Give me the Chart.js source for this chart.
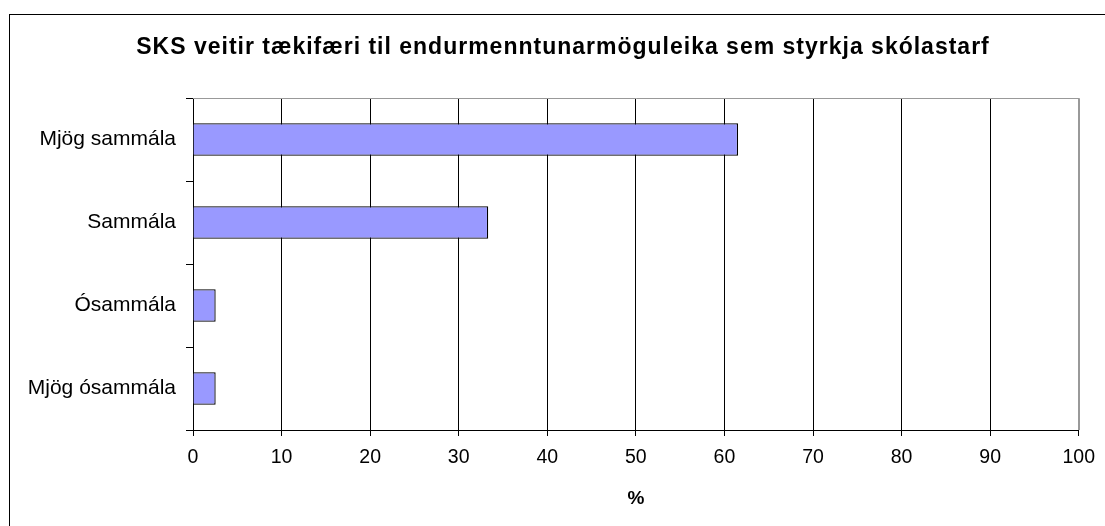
<!DOCTYPE html>
<html>
<head>
<meta charset="utf-8">
<script src="https://cdn.jsdelivr.net/npm/chart.js@4/dist/chart.umd.min.js"></script>
<style>
  html, body { margin: 0; padding: 0; background: #fff; }
  canvas { display: block; }
</style>
</head>
<body>
<canvas id="chart" width="1105" height="526"></canvas>
<script>
const TITLE = "SKS veitir tækifæri til endurmenntunarmöguleika sem styrkja skólastarf";
const categories = ["Mjög sammála", "Sammála", "Ósammála", "Mjög ósammála"];
const percents = [61.54, 33.33, 2.56, 2.56];
const xTicks = [0, 10, 20, 30, 40, 50, 60, 70, 80, 90, 100];
const X_TITLE = "%";

const FONT = "'Liberation Sans', Arial, sans-serif";
Chart.defaults.color = "#000";
Chart.defaults.font.family = FONT;

// outer frame, title, grey top/right edge of the plot
const framePlugin = {
  id: "frame",
  beforeDraw(chart) {
    const ctx = chart.ctx;
    ctx.save();
    ctx.fillStyle = "#fff";
    ctx.fillRect(0, 0, chart.width, chart.height);
    ctx.strokeStyle = "#000";
    ctx.lineWidth = 1;
    ctx.strokeRect(9.5, 14.5, 1200, 600);
    ctx.restore();
  },
  afterDatasetsDraw(chart) {
    const { ctx, chartArea: a } = chart;
    ctx.save();
    ctx.strokeStyle = "#999";
    ctx.lineWidth = 1;
    ctx.beginPath();
    ctx.moveTo(a.left, Math.round(a.top) + 0.5);
    ctx.lineTo(Math.round(a.right) + 0.5, Math.round(a.top) + 0.5);
    ctx.lineTo(Math.round(a.right) + 0.5, a.bottom);
    ctx.stroke();
    ctx.restore();
  },
  afterDraw(chart) {
    const ctx = chart.ctx;
    ctx.save();
    ctx.font = "bold 23px " + FONT;
    ctx.fillStyle = "#000";
    ctx.textAlign = "center";
    ctx.textBaseline = "middle";
    if ("letterSpacing" in ctx) ctx.letterSpacing = "1px";
    ctx.fillText(TITLE, 563, 48);
    ctx.restore();
  },
};

new Chart(document.getElementById("chart"), {
  type: "bar",
  data: {
    labels: categories,
    datasets: [
      {
        data: percents,
        backgroundColor: "#9999FF",
        borderColor: "#000",
        borderWidth: 1.3,
        categoryPercentage: 1,
        barPercentage: 0.39,
      },
    ],
  },
  options: {
    indexAxis: "y",
    responsive: false,
    animation: false,
    layout: { padding: { left: 0, right: 23, top: 98, bottom: 0 } },
    plugins: {
      legend: { display: false },
      tooltip: { enabled: false },
      title: { display: false },
    },
    scales: {
      x: {
        min: 0,
        max: 100,
        afterBuildTicks: (scale) => {
          scale.ticks = xTicks.map((v) => ({ value: v }));
        },
        afterFit: (scale) => {
          scale.height = 96;
        },
        ticks: { font: { size: 19.5 }, padding: 10, maxRotation: 0 },
        grid: {
          color: (c) => (c.tick && c.tick.value === 100 ? "#999" : "#000"),
          tickColor: "#000",
          tickLength: 6,
          lineWidth: 1,
        },
        border: { color: "#000", width: 1 },
        title: {
          display: true,
          text: X_TITLE,
          font: { size: 19, weight: "bold" },
          padding: { top: 4, bottom: 15.6 },
        },
      },
      y: {
        afterFit: (scale) => {
          scale.width = 193;
        },
        ticks: { font: { size: 21 }, padding: 10 },
        grid: {
          drawOnChartArea: false,
          color: "#000",
          tickLength: 7,
          lineWidth: 1,
        },
        border: { color: "#000", width: 1 },
      },
    },
  },
  plugins: [framePlugin],
});
</script>
</body>
</html>
